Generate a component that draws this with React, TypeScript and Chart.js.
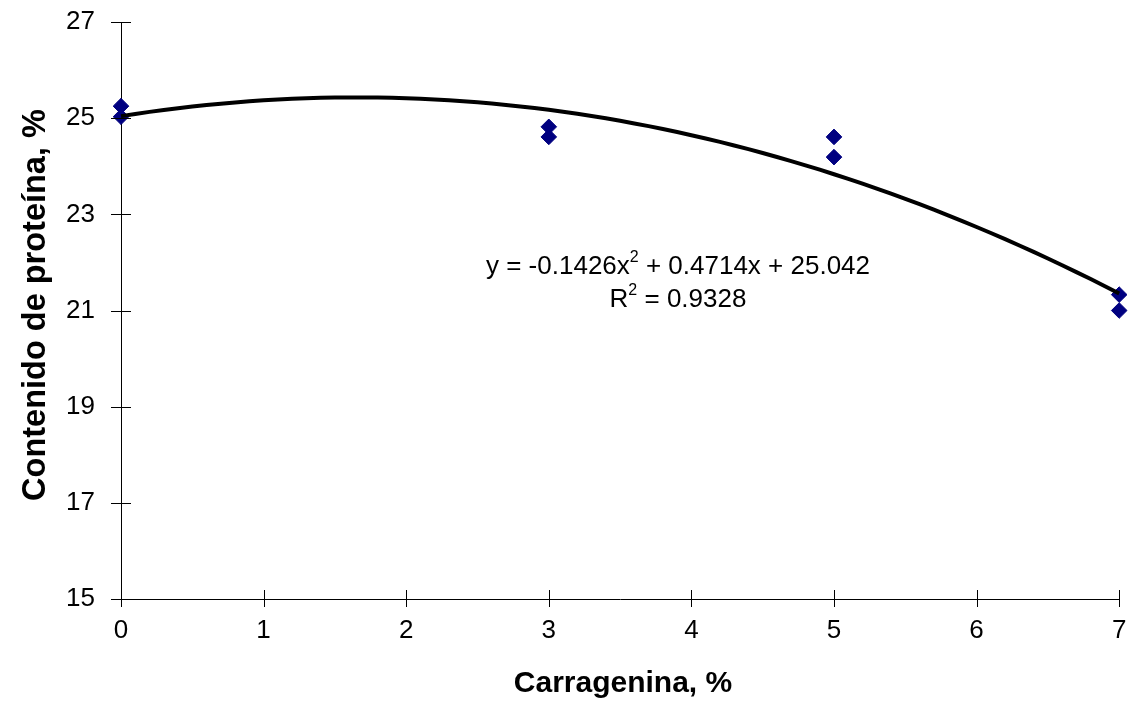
import React, { useEffect, useRef } from "react";
import { Chart, registerables } from "chart.js";

Chart.register(...registerables);

const carrageenanX = [0, 0, 3, 3, 5, 5, 7, 7];
const proteinY = [25.25, 25.03, 24.82, 24.61, 24.61, 24.19, 21.33, 21.0];
const fitCoefficients = [-0.1426, 0.4714, 25.042]; // a, b, c of trendline shown in chart
const xTicks = [0, 1, 2, 3, 4, 5, 6, 7];
const yTicks = [15, 17, 19, 21, 23, 25, 27];
const xTitle = "Carragenina, %";
const yTitle = "Contenido de proteína, %";
const eqLine1a = "y = -0.1426x";
const eqLine1b = " + 0.4714x + 25.042";
const eqLine2a = "R";
const eqLine2b = " = 0.9328";

const FONT = "'Liberation Sans', Arial, sans-serif";

export default function App() {
  const ref = useRef<HTMLCanvasElement | null>(null);
  useEffect(() => {
    document.body.style.margin = "0";
    const canvas = ref.current!;
    const [a, b, c] = fitCoefficients;
    const fit: { x: number; y: number }[] = [];
    for (let i = 0; i <= 70; i++) {
      const x = i / 10;
      fit.push({ x, y: a * x * x + b * x + c });
    }
    const pts = carrageenanX.map((x, i) => ({ x, y: proteinY[i] }));

    const decor = {
      id: "decor",
      afterDraw(chart: any) {
        const ctx = chart.ctx;
        const xs = chart.scales.x;
        const ys = chart.scales.y;
        const area = chart.chartArea;
        ctx.save();
        ctx.strokeStyle = "#000";
        ctx.lineWidth = 1;
        yTicks.forEach((v) => {
          const py = Math.round(ys.getPixelForValue(v)) + 0.5;
          ctx.beginPath();
          ctx.moveTo(area.left - 10, py);
          ctx.lineTo(area.left + 10, py);
          ctx.stroke();
        });
        xTicks.forEach((v) => {
          const px = Math.round(xs.getPixelForValue(v)) + 0.5;
          ctx.beginPath();
          ctx.moveTo(px, area.bottom - 9);
          ctx.lineTo(px, area.bottom + 8);
          ctx.stroke();
        });
        ctx.fillStyle = "#000";
        ctx.textAlign = "center";
        ctx.textBaseline = "alphabetic";
        ctx.font = `bold 30px ${FONT}`;
        ctx.fillText(xTitle, 623, 692);
        ctx.save();
        ctx.translate(45, 305);
        ctx.rotate(-Math.PI / 2);
        ctx.font = `bold 32.5px ${FONT}`;
        ctx.fillText(yTitle, 0, 0);
        ctx.restore();
        // equation
        ctx.textAlign = "left";
        const mainFont = `26px ${FONT}`;
        const supFont = `16px ${FONT}`;
        const cx = 678;
        ctx.font = mainFont;
        const w1a = ctx.measureText(eqLine1a).width;
        const w1b = ctx.measureText(eqLine1b).width;
        ctx.font = supFont;
        const ws = ctx.measureText("2").width;
        let x0 = cx - (w1a + ws + w1b) / 2;
        ctx.font = mainFont;
        ctx.fillText(eqLine1a, x0, 274);
        ctx.font = supFont;
        ctx.fillText("2", x0 + w1a, 262);
        ctx.font = mainFont;
        ctx.fillText(eqLine1b, x0 + w1a + ws, 274);
        const w2a = ctx.measureText(eqLine2a).width;
        const w2b = ctx.measureText(eqLine2b).width;
        x0 = cx - (w2a + ws + w2b) / 2;
        ctx.fillText(eqLine2a, x0, 307);
        ctx.font = supFont;
        ctx.fillText("2", x0 + w2a, 295);
        ctx.font = mainFont;
        ctx.fillText(eqLine2b, x0 + w2a + ws, 307);
        ctx.restore();
      },
    };

    const chart = new Chart(canvas, {
      type: "scatter",
      data: {
        datasets: [
          {
            label: "fit",
            data: fit,
            showLine: true,
            borderColor: "#000",
            borderWidth: 4,
            pointRadius: 0,
            tension: 0,
            fill: false,
            clip: false,
          } as any,
          {
            label: "data",
            data: pts,
            pointStyle: "rectRot",
            pointRadius: 7.8,
            backgroundColor: "#000080",
            borderColor: "#000080",
            borderWidth: 1,
            clip: false,
          } as any,
        ],
      },
      options: {
        responsive: false,
        animation: false,
        devicePixelRatio: 1,
        layout: { padding: { top: 22, right: 8, left: 0, bottom: 0 } },
        plugins: { legend: { display: false }, tooltip: { enabled: false } },
        scales: {
          x: {
            type: "linear",
            min: 0,
            max: 7,
            afterFit: (s: any) => {
              s.height = 102;
              s.paddingLeft = 0;
              s.paddingRight = 0;
            },
            afterBuildTicks: (s: any) => {
              s.ticks = xTicks.map((v) => ({ value: v }));
            },
            ticks: {
              color: "#000",
              font: { family: FONT, size: 26 },
              padding: 16,
              maxRotation: 0,
            },
            grid: { drawOnChartArea: false, drawTicks: false },
            border: { color: "#000", width: 1 },
          },
          y: {
            type: "linear",
            min: 15,
            max: 27,
            afterFit: (s: any) => {
              s.width = 121;
              s.paddingTop = 0;
              s.paddingBottom = 0;
            },
            afterBuildTicks: (s: any) => {
              s.ticks = yTicks.map((v) => ({ value: v }));
            },
            ticks: {
              color: "#000",
              font: { family: FONT, size: 26 },
              padding: 26,
            },
            grid: { drawOnChartArea: false, drawTicks: false },
            border: { color: "#000", width: 1 },
          },
        },
      },
      plugins: [decor],
    });
    return () => chart.destroy();
  }, []);
  return (
    <div style={{ position: "absolute", left: 0, top: 0, width: 1128, height: 701, background: "#fff" }}>
      <canvas ref={ref} width={1128} height={701} />
    </div>
  );
}
